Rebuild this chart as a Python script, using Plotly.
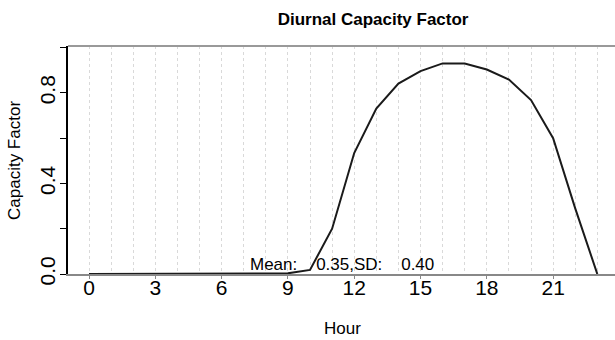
import plotly.graph_objects as go

hours = list(range(24))
capacity_factor = [0, 0, 0, 0, 0, 0, 0, 0, 0, 0.003, 0.018, 0.20, 0.534, 0.731,
                   0.841, 0.896, 0.93, 0.93, 0.903, 0.859, 0.768, 0.60, 0.29, 0.0]
x_tick_vals = [0, 3, 6, 9, 12, 15, 18, 21]
y_tick_vals = [0, 0.2, 0.4, 0.6, 0.8, 1.0]
y_tick_text = ["0.0", "", "0.4", "", "0.8", ""]
title_text = "Diurnal Capacity Factor"
x_title = "Hour"
y_title = "Capacity Factor"
stats_text = "Mean:\u00a0\u00a0\u00a0\u00a00.35,SD:\u00a0\u00a0\u00a0\u00a00.40"

FONT = "Liberation Sans, Arial, Helvetica, sans-serif"

fig = go.Figure()
fig.add_trace(go.Scatter(x=hours, y=capacity_factor, mode="lines",
                         line=dict(color="#1a1a1a", width=2), showlegend=False,
                         cliponaxis=False))

fig.update_layout(
    width=615, height=340,
    margin=dict(l=68, r=0, t=46, b=66),
    paper_bgcolor="white", plot_bgcolor="white",
    font=dict(family=FONT, color="black"),
    title=dict(text="<b>" + title_text + "</b>", font=dict(size=17, family=FONT),
               x=343 / 615, xref="paper", xanchor="center",
               y=1 - 19 / 340, yref="container", yanchor="middle"),
    showlegend=False,
)
fig.update_xaxes(
    range=[-0.95, 23.8], tickmode="array", tickvals=x_tick_vals,
    ticks="outside", ticklen=3, tickcolor="#888", tickwidth=1,
    tickfont=dict(size=21, family=FONT), ticklabelstandoff=-9,
    showline=True, linecolor="#888", linewidth=1.5, mirror=False,
    showgrid=True, gridcolor="#d9d9d9", griddash="dot", gridwidth=1,
    minor=dict(dtick=1, tick0=0, showgrid=True, gridcolor="#d9d9d9", griddash="dot", ticklen=0),
    zeroline=False,
)
fig.update_yaxes(
    range=[0, 1.007], tickmode="array", tickvals=y_tick_vals, ticktext=y_tick_text,
    ticks="outside", ticklen=6, tickcolor="black", tickwidth=1,
    tickangle=-90, tickfont=dict(size=21, family=FONT), ticklabelstandoff=-3,
    showline=True, linecolor="black", linewidth=1.5,
    showgrid=False, zeroline=False,
)
# top border of the plot box
fig.add_shape(type="line", xref="paper", yref="paper", x0=0, x1=1, y0=1, y1=1,
              line=dict(color="#999", width=2))
fig.add_annotation(text=stats_text, x=11.47, y=0, xref="x", yref="y",
                   xanchor="center", yanchor="bottom", yshift=-2, showarrow=False,
                   font=dict(size=17, family=FONT))
fig.add_annotation(text=x_title, x=0.501, y=-(328 - 274) / 228, xref="paper", yref="paper",
                   xanchor="center", yanchor="middle", showarrow=False,
                   font=dict(size=17, family=FONT))
fig.add_annotation(text=y_title, x=(14 - 68) / 547, y=(274 - 161) / 228, xref="paper", yref="paper",
                   xanchor="center", yanchor="middle", textangle=-90, showarrow=False,
                   font=dict(size=17, family=FONT))

fig.write_html("out.html")
